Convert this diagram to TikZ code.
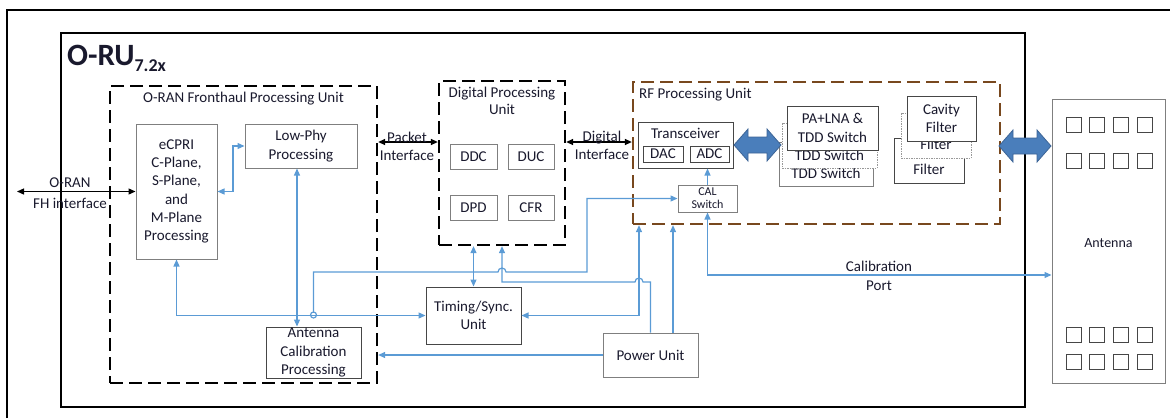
\documentclass[tikz,border=0pt]{standalone}
\usepackage{fontspec}
\setmainfont{Carlito}
\usetikzlibrary{arrows.meta}
\definecolor{tc}{RGB}{25,25,45}
\definecolor{bgray}{RGB}{127,127,127}
\definecolor{dgray}{RGB}{70,70,70}
\definecolor{cblue}{RGB}{91,155,213}
\definecolor{abl}{RGB}{74,126,187}
\definecolor{abd}{RGB}{60,100,150}
\definecolor{brn}{RGB}{120,72,30}
\newcommand\fsn{\fontsize{15}{18.3}\selectfont}
\newcommand\fatarrow[3]{%
  \filldraw[fill=abl,draw=abd,line width=0.8pt] (#1,#3) -- ({#1+14},{#3-16}) -- ({#1+14},{#3-8}) -- ({#2-14},{#3-8}) -- ({#2-14},{#3-16}) -- (#2,#3) -- ({#2-14},{#3+16}) -- ({#2-14},{#3+8}) -- ({#1+14},{#3+8}) -- ({#1+14},{#3+16}) -- cycle;}
\begin{document}
\begin{tikzpicture}[x=1pt,y=-1pt,
  >={Triangle[length=7pt,width=6pt]},
  every node/.style={text=tc,font=\fsn},
  box/.style={draw=bgray,line width=1pt,fill=white,inner sep=0pt,align=center},
  dbox/.style={box,draw=dgray},
  ghost/.style={box,draw=gray!80,dash pattern=on 1.5pt off 1pt},
  dashbox/.style={draw=black,line width=2.3pt,dash pattern=on 13pt off 6pt,inner sep=0pt},
  bl/.style={draw=cblue,line width=1.2pt},
  blk/.style={draw=black,line width=1.3pt},
  lbl/.style={align=center,inner sep=0pt}]
\useasboundingbox (0,0) rectangle (1170,418);
% outer frame (top and left edges)
\draw[line width=2pt] (7,418) -- (7,10) -- (1170,10);
% O-RU container
\node[draw=black,line width=2pt,minimum width=964,minimum height=374,inner sep=0pt] (oru) at (543,220) {};
\node[anchor=base west,inner sep=0pt,font=\fontsize{31}{32}\selectfont\bfseries] (orutitle) at (67,65) {O-RU\raisebox{-6pt}{\fontsize{18}{18}\selectfont\bfseries 7.2x}};

% Fronthaul processing unit
\node[dashbox,minimum width=267,minimum height=297] (fh) at (243.5,234.5) {};
\node[lbl] (fhtitle) at (243.5,99) {O-RAN Fronthaul Processing Unit};
\node[box,minimum width=81,minimum height=135] (ecpri) at (176.5,191.5) {eCPRI\\C-Plane,\\S-Plane,\\and\\M-Plane\\Processing};
\node[box,minimum width=112,minimum height=44] (lowphy) at (301,146) {Low-Phy\\Processing};
\node[dbox,minimum width=95,minimum height=51] (antcal) at (313.5,352.5) {Antenna\\Calibration\\Processing};

% Digital processing unit
\node[dashbox,minimum width=126,minimum height=164] (dpu) at (502,163) {};
\node[lbl,font=\fontsize{15}{17}\selectfont] (dputitle) at (502,100.5) {Digital Processing\\Unit};
\node[box,minimum width=47,minimum height=25] (ddc) at (473.5,156.5) {DDC};
\node[box,minimum width=46,minimum height=25] (duc) at (531,156.5) {DUC};
\node[box,minimum width=47,minimum height=25] (dpd) at (473.5,207.5) {DPD};
\node[box,minimum width=46,minimum height=25] (cfr) at (531,207.5) {CFR};

% RF processing unit
\node[dashbox,draw=brn,minimum width=367,minimum height=142] (rf) at (816.5,153) {};
\node[anchor=west,inner sep=0pt] (rftitle) at (639,95) {RF Processing Unit};
\node[dbox,minimum width=95,minimum height=46] (trx) at (685.5,145) {};
\node[lbl] (trxt) at (685.5,133.5) {Transceiver};
\node[dbox,minimum width=40,minimum height=16] (dac) at (663,154) {DAC};
\node[dbox,minimum width=39,minimum height=16] (adc) at (709.5,154) {ADC};
\node[box,minimum width=59,minimum height=27,font=\fontsize{12}{13}\selectfont] (calsw) at (707.5,198.5) {CAL\\Switch};

\node[box,minimum width=94,minimum height=44] (pa3) at (826,164) {};
\node[lbl] (pa3t) at (826,173) {TDD Switch};
\node[ghost,minimum width=95,minimum height=45] (pa2) at (829.5,145.5) {};
\node[lbl] (pa2t) at (829.5,155) {TDD Switch};
\node[dbox,minimum width=91,minimum height=44] (pa1) at (832.5,128) {PA+LNA \&\\TDD Switch};

\node[dbox,minimum width=70,minimum height=45] (f3) at (929,160.5) {};
\node[lbl] (f3t) at (929,169) {Filter};
\node[ghost,minimum width=70,minimum height=45] (f2) at (936,135.5) {};
\node[lbl] (f2t) at (936,144) {Filter};
\node[dbox,minimum width=69,minimum height=45] (f1) at (941.5,118.5) {Cavity\\Filter};

% Antenna
\node[box,minimum width=113,minimum height=284] (ant) at (1108.5,241) {};
\node[lbl,font=\fontsize{14}{16}\selectfont] (antt) at (1108.5,243) {Antenna};
\foreach \c/\x in {1/1073.5,2/1097,3/1120.5,4/1144.5}{
  \foreach \r/\y in {1/125,2/160.5,3/334.5,4/361.5}{
    \node[box,draw=dgray,minimum width=15,minimum height=15] (sq-\r-\c) at (\x,\y) {};
  }}

% Timing and Power
\node[dbox,minimum width=95,minimum height=57] (timing) at (473.5,315.5) {Timing/Sync.\\Unit};
\node[box,minimum width=95,minimum height=44] (power) at (650.5,355) {Power Unit};

% helper coordinates
\coordinate (fhend) at (17,191.5);
\coordinate (py) at (0,142);
\coordinate (elbow) at (233,191.5);
\coordinate (x297) at (297,0);
\coordinate (x639) at (639,0);
\coordinate (x673) at (673,0);
\coordinate (cp) at (0,275);
\coordinate (hopc) at (313.5,315);

% black interface arrows
\draw[blk,<->] (fhend) -- (ecpri.west);
\node[anchor=base,inner sep=0pt] (fhlbl1) at (70,187) {O-RAN};
\node[anchor=base,inner sep=0pt] (fhlbl2) at (70,208) {FH interface};
\draw[blk,<->] (fh.east |- py) -- (dpu.west |- py);
\node[lbl,font=\fontsize{15}{18}\selectfont] (pktlbl) at (407,146) {Packet\\Interface};
\draw[blk,<->] (dpu.east |- py) -- (rf.west |- py);
\node[lbl,font=\fontsize{15}{18}\selectfont] (diglbl) at (602,145) {Digital\\Interface};

% fat RF arrows
\fatarrow{734}{781}{145}
\fatarrow{999}{1051}{146}

% blue connectors
\draw[bl,<->] (ecpri.east) -- (elbow) |- (lowphy.west);
\draw[bl,<->] (x297 |- lowphy.south) -- (x297 |- antcal.north);
\draw[bl,<->] (ecpri.south) |- (timing.west);
\draw[bl] (hopc) circle[radius=3pt];
\draw[bl,->] (313.5,312) -- (313.5,272) -- (498,272) arc[start angle=180,end angle=0,radius=4pt] -- (587,272) -- (587,198.5) -- (calsw.west);
\draw[bl,<->] (timing.north) -- (timing.north |- dpu.south);
\draw[bl,->] (power.north) -- (650.5,282) -- (643,282) arc[start angle=0,end angle=180,radius=4pt] -- (502,282) -- (dpu.south);
\draw[bl,<->] (timing.east) -| (x639 |- rf.south);
\draw[bl,->] (x673 |- power.north) -- (x673 |- rf.south);
\draw[bl,->] (calsw.north) -- (calsw.north |- trx.south);
\draw[bl,<->] (calsw.south) |- (ant.west |- cp);
\node[lbl,font=\fontsize{15}{19}\selectfont] (cplbl) at (879,276) {Calibration\\Port};
\draw[bl,->] (power.west) -- (fh.east |- power.west);
\end{tikzpicture}
\end{document}
